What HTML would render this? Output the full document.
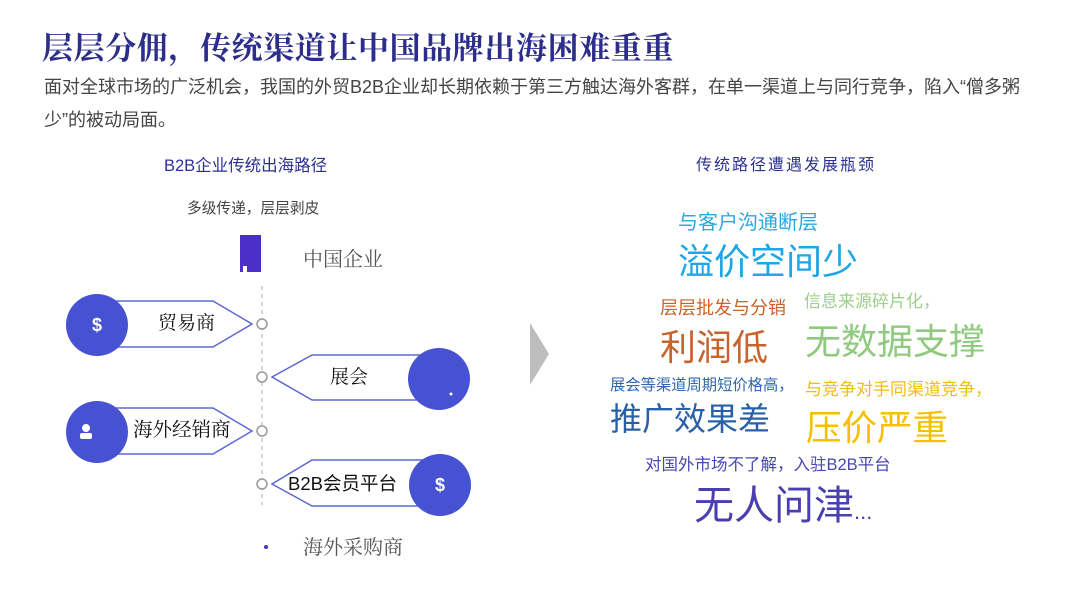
<!DOCTYPE html>
<html><head><meta charset="utf-8"><style>
html,body{margin:0;padding:0;background:#fff;}
body{width:1080px;height:601px;position:relative;overflow:hidden;font-family:"Liberation Sans","Noto Sans CJK SC",sans-serif;}
.t{position:absolute;white-space:nowrap;line-height:1;}
</style></head><body>
<div class="t" style="left:42px;top:33px;font-size:31px;font-weight:bold;color:#2d2e8c;letter-spacing:0.6px;font-family:'Liberation Serif','Noto Serif CJK SC',serif;">层层分佣，传统渠道让中国品牌出海困难重重</div>
<div class="t" style="left:44px;top:78px;font-size:18px;color:#444;">面对全球市场的广泛机会，我国的外贸B2B企业却长期依赖于第三方触达海外客群，在单一渠道上与同行竞争，陷入“僧多粥</div>
<div class="t" style="left:44px;top:111px;font-size:18px;color:#444;">少”的被动局面。</div>
<div class="t" style="left:164px;top:158px;font-size:16.5px;color:#2d3190;">B2B企业传统出海路径</div>
<div class="t" style="left:696px;top:158px;font-size:16px;letter-spacing:2px;color:#2d3190;">传统路径遭遇发展瓶颈</div>
<div class="t" style="left:187px;top:202px;font-size:14.7px;color:#444;">多级传递，层层剥皮</div>

<svg style="position:absolute;left:0;top:0" width="1080" height="601">
<rect x="240" y="235" width="21" height="37" fill="#4a2fc8"/>
<rect x="243" y="266" width="4" height="6" fill="#fff"/>
<line x1="262" y1="286" x2="262" y2="505" stroke="#bbb" stroke-width="1.2" stroke-dasharray="4,4"/>
<g fill="#fff" stroke="#5b68d4" stroke-width="1.5">
<polygon points="97,301 213,301 252,324 213,347 97,347"/>
<polygon points="97,408 213,408 252,431 213,454 97,454"/>
<polygon points="439,355 312,355 272,377 312,400 439,400"/>
<polygon points="440,460 312,460 272,484 312,506 440,506"/>
</g>
<g fill="#fff" stroke="#999" stroke-width="1.5">
<circle cx="262" cy="324" r="5"/><circle cx="262" cy="377" r="5"/>
<circle cx="262" cy="431" r="5"/><circle cx="262" cy="484" r="5"/>
</g>
<g fill="#4652d2">
<circle cx="97" cy="325" r="31"/><circle cx="97" cy="432" r="31"/>
<circle cx="439" cy="379" r="31"/><circle cx="440" cy="485" r="31"/>
</g>
<circle cx="451" cy="394" r="1.5" fill="#fff"/>
<text x="97" y="331" font-size="18" font-weight="bold" fill="#fff" text-anchor="middle" font-family="Liberation Sans">$</text>
<text x="440" y="491" font-size="18" font-weight="bold" fill="#fff" text-anchor="middle" font-family="Liberation Sans">$</text>
<circle cx="86" cy="428" r="4" fill="#fff"/>
<rect x="80" y="433" width="12" height="6" rx="2" fill="#fff"/>
<circle cx="266" cy="547" r="2" fill="#4a2fc8"/>
<polygon points="530,323 549,354 530,385" fill="#bdbdbd"/>
</svg>

<div class="t" style="left:303px;top:250px;font-size:20px;color:#555;font-family:'Liberation Serif','Noto Serif CJK SC',serif;">中国企业</div>
<div class="t" style="left:303px;top:538px;font-size:20px;color:#555;font-family:'Liberation Serif','Noto Serif CJK SC',serif;">海外采购商</div>
<div class="t" style="left:158px;top:314px;font-size:19px;color:#111;font-family:'Liberation Serif','Noto Serif CJK SC',serif;">贸易商</div>
<div class="t" style="left:330px;top:368px;font-size:19px;color:#111;font-family:'Liberation Serif','Noto Serif CJK SC',serif;">展会</div>
<div class="t" style="left:133px;top:421px;font-size:19.5px;color:#111;font-family:'Liberation Serif','Noto Serif CJK SC',serif;">海外经销商</div>
<div class="t" style="left:288px;top:475px;font-size:18.5px;color:#111;">B2B会员平台</div>

<div class="t" style="left:678px;top:213px;font-size:20px;color:#29a9e0;">与客户沟通断层</div>
<div class="t" style="left:678px;top:244px;font-size:36px;color:#1ea6e6;">溢价空间少</div>
<div class="t" style="left:660px;top:299px;font-size:18px;color:#c8632a;">层层批发与分销</div>
<div class="t" style="left:660px;top:330px;font-size:36px;color:#c8632a;">利润低</div>
<div class="t" style="left:804px;top:293px;font-size:17px;color:#9ccf8a;">信息来源碎片化，</div>
<div class="t" style="left:805px;top:324px;font-size:36px;color:#8fca7f;">无数据支撑</div>
<div class="t" style="left:610px;top:378px;font-size:15.3px;color:#2e66b0;">展会等渠道周期短价格高，</div>
<div class="t" style="left:610px;top:403px;font-size:32px;color:#2a60a8;">推广效果差</div>
<div class="t" style="left:805px;top:381px;font-size:17px;color:#f0bd10;">与竞争对手同渠道竞争，</div>
<div class="t" style="left:806px;top:411px;font-size:35.5px;color:#f5c000;">压价严重</div>
<div class="t" style="left:645px;top:457px;font-size:16.5px;color:#4b47b0;">对国外市场不了解，入驻B2B平台</div>
<div class="t" style="left:694px;top:486px;font-size:40px;color:#4a3fb0;">无人问津<span style="font-size:22px;">...</span></div>
</body></html>
